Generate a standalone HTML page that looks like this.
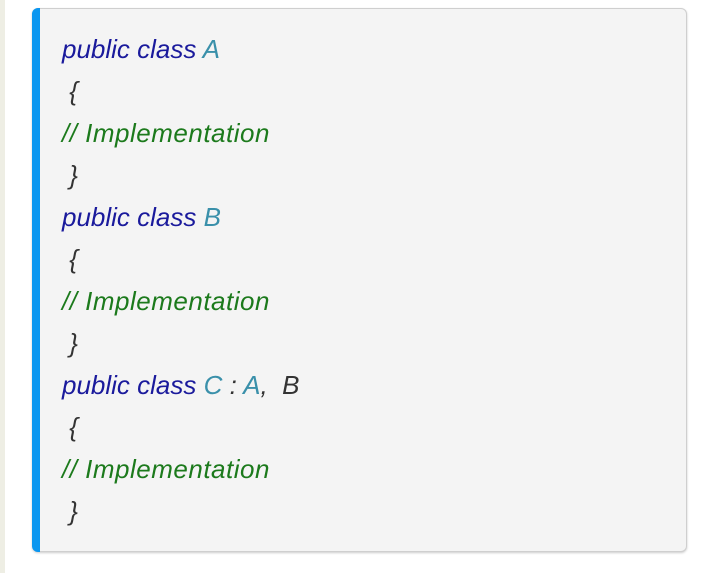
<!DOCTYPE html>
<html><head><meta charset="utf-8"><style>
html,body{margin:0;padding:0;width:720px;height:573px;background:#fff;overflow:hidden}
.side{position:absolute;left:0;top:0;width:5px;height:573px;background:#eeeee4}
.card{position:absolute;left:32px;top:8px;width:654px;height:542px;background:#f4f4f4;border:1px solid #cfcfcf;border-left:none;border-radius:6px;box-shadow:0 1px 2px #ccc}
.bar{position:absolute;left:32px;top:8px;width:8px;height:544px;background:#0a96f0;border-radius:6px 0 0 6px}
.l{position:absolute;left:62px;font:italic 26px "Liberation Sans",sans-serif;white-space:nowrap;line-height:30px}
.k{color:#1a1a9c}.t{color:#3a90aa}.c{color:#1c7a1c;letter-spacing:0.5px}.b{color:#333}
</style></head><body>
<div class="side"></div>
<div class="card"></div><div class="bar"></div>
<div class="l k" style="top:34px">public class <span class="t">A</span></div>
<div class="l b" style="top:76px">&nbsp;{</div>
<div class="l c" style="top:118px">// Implementation</div>
<div class="l b" style="top:160px">&nbsp;}</div>
<div class="l k" style="top:202px">public class <span class="t">B</span></div>
<div class="l b" style="top:244px">&nbsp;{</div>
<div class="l c" style="top:286px">// Implementation</div>
<div class="l b" style="top:328px">&nbsp;}</div>
<div class="l k" style="top:370px">public class <span class="t">C</span> <span class="b">:</span> <span class="t">A</span><span class="b">,&nbsp; B</span></div>
<div class="l b" style="top:412px">&nbsp;{</div>
<div class="l c" style="top:454px">// Implementation</div>
<div class="l b" style="top:496px">&nbsp;}</div>
</body></html>
